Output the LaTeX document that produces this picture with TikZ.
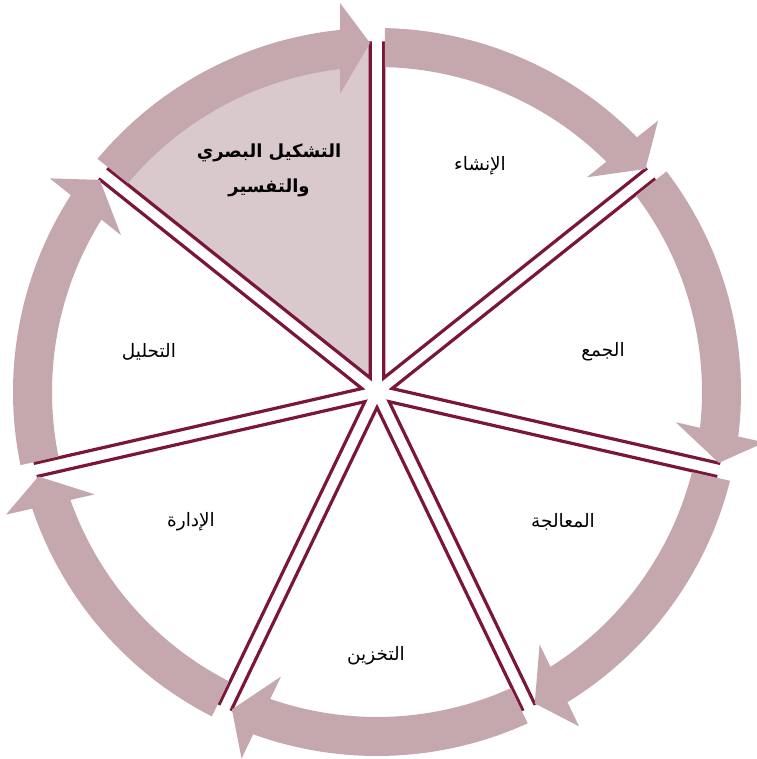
\documentclass[tikz,border=0pt]{standalone}
\usepackage{fontspec}
\usetikzlibrary{calc}
\TeXXeTstate=1
\newfontfamily\arabicfont[Script=Arabic]{DejaVu Sans}
\definecolor{arrowcol}{RGB}{196,168,174}
\definecolor{linecol}{RGB}{122,22,56}
\definecolor{hilite}{RGB}{217,201,205}
\begin{document}
\begin{tikzpicture}[x=1pt,y=1pt,
  wedge/.style={draw=linecol, line width=3.2pt, line join=miter},
  cyclearrow/.style={fill=arrowcol, draw=none},
  lbl/.style={font=\arabicfont\fontsize{18.5}{22}\selectfont, text=black, align=center, inner sep=0pt},
  boldlbl/.style={font=\arabicfont\bfseries\fontsize{18}{35}\selectfont, text=black, align=center, inner sep=0pt}]
\useasboundingbox (-377,-367) rectangle (379,392);
% wedges
\foreach \k/\f in {0/white,1/white,2/white,3/white,4/white,5/white,6/hilite}{
  \pgfmathsetmacro{\a}{90-360*\k/7}
  \pgfmathsetmacro{\b}{\a-360/7}
  \pgfmathsetmacro{\m}{\a-180/7}
  \coordinate (apex\k) at ({\m}:15.5);
  \draw[wedge, fill=\f] (apex\k) -- ++({\a}:335) arc[start angle=\a, end angle=\b, radius=335] -- cycle;
}
% arrows
\foreach \k in {0,...,6}{
  \pgfmathsetmacro{\a}{90-360*\k/7}
  \pgfmathsetmacro{\b}{\a-360/7}
  \pgfmathsetmacro{\ta}{\a-asin(8/364)}
  \pgfmathsetmacro{\tb}{\a-asin(8/325)}
  \pgfmathsetmacro{\ha}{\b+asin(37/364)}
  \pgfmathsetmacro{\hb}{\b+asin(37/325)}
  \pgfmathsetmacro{\p}{\b+90}
  \fill[cyclearrow] ({\ta}:364) arc[start angle=\ta, end angle=\ha, radius=364]
    -- ($({\b}:389)+({\p}:37)$) -- ($({\b}:349)+({\p}:7)$) -- ($({\b}:298)+({\p}:37)$)
    -- ({\hb}:325) arc[start angle=\hb, end angle=\tb, radius=325] -- cycle;
}
% labels
\node[lbl] (l0) at (103,226) {\beginR الإنشاء\endR};
\node[lbl] (l1) at (226,40) {\beginR الجمع\endR};
\node[lbl] (l2) at (186,-130) {\beginR المعالجة\endR};
\node[lbl] (l3) at (-1,-264) {\beginR التخزين\endR};
\node[lbl] (l4) at (-186,-130) {\beginR الإدارة\endR};
\node[lbl] (l5) at (-228,40) {\beginR التحليل\endR};
\node[boldlbl] (l6) at (-108,222) {\beginR التشكيل البصري\endR\\\beginR والتفسير\endR};
\end{tikzpicture}
\end{document}
